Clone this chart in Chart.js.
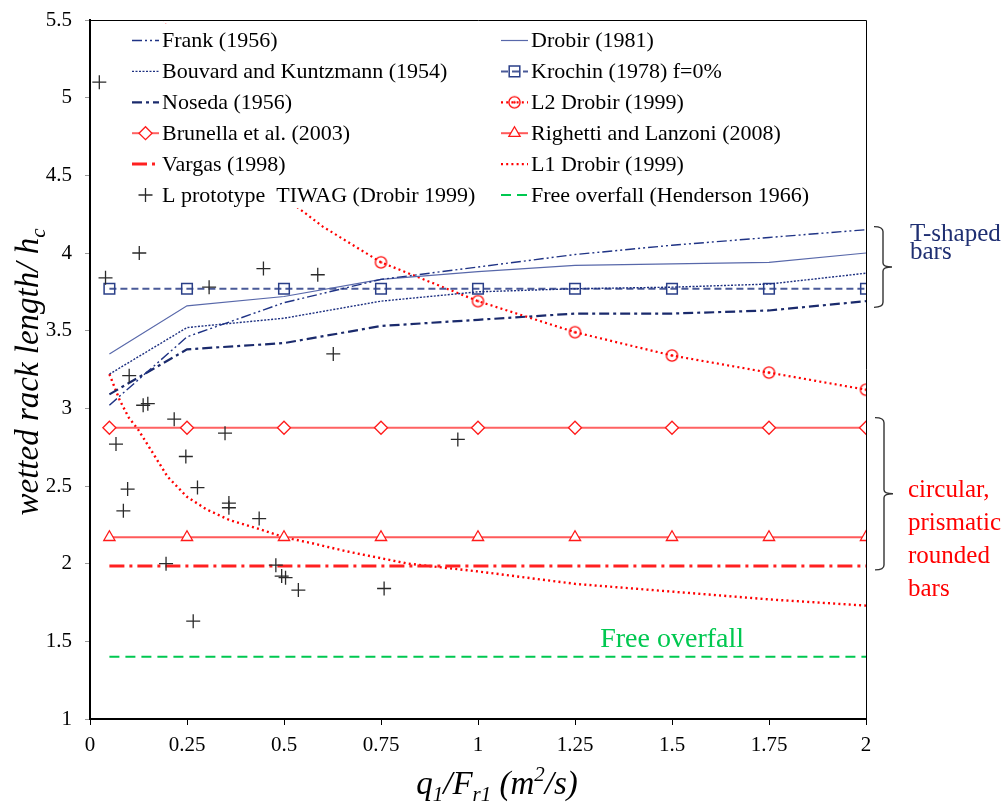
<!DOCTYPE html>
<html>
<head>
<meta charset="utf-8">
<script src="https://cdn.jsdelivr.net/npm/chart.js@4.4.1/dist/chart.umd.min.js"></script>
<style>
  html, body { margin: 0; padding: 0; background: #fff; }
  #wrap { width: 1005px; height: 803px; }
</style>
</head>
<body>
<div id="wrap"><canvas id="rackChart" width="1005" height="803"></canvas></div>
<script>
// q1/Fr1 values used by the formula curves
const qStd = [0.05, 0.25, 0.5, 0.75, 1, 1.25, 1.5, 1.75, 2];

// T-shaped bars
const frank1956   = [3.02, 3.46, 3.68, 3.83, 3.91, 3.99, 4.05, 4.10, 4.15];
const drobir1981  = [3.35, 3.66, 3.72, 3.83, 3.88, 3.92, 3.93, 3.94, 4.00];
const bouvard1954 = [3.22, 3.52, 3.58, 3.69, 3.75, 3.77, 3.78, 3.80, 3.87];
const noseda1956  = [3.09, 3.38, 3.42, 3.53, 3.57, 3.61, 3.61, 3.63, 3.69];
const krochin1978 = [3.77, 3.77, 3.77, 3.77, 3.77, 3.77, 3.77, 3.77, 3.77];

// circular / prismatic / rounded bars
const brunella2003 = [2.875, 2.875, 2.875, 2.875, 2.875, 2.875, 2.875, 2.875, 2.875];
const righetti2008 = [2.17, 2.17, 2.17, 2.17, 2.17, 2.17, 2.17, 2.17, 2.17];
const vargas1998   = [1.985, 1.985, 1.985, 1.985, 1.985, 1.985, 1.985, 1.985, 1.985];
const freeOverfall = [1.40, 1.40, 1.40, 1.40, 1.40, 1.40, 1.40, 1.40, 1.40];

// Drobir (1999) curves
const l2Q = [0.18, 0.2, 0.25, 0.3, 0.4, 0.5, 0.6, 0.75, 1, 1.25, 1.5, 1.75, 2];
const l2Drobir = [5.57, 5.43, 5.15, 4.93, 4.60, 4.36, 4.17, 3.94, 3.69, 3.49, 3.34, 3.23, 3.12];
const l1Q = [0.05, 0.077, 0.1, 0.125, 0.15, 0.2, 0.25, 0.3, 0.36, 0.44, 0.5, 0.575, 0.66, 0.82, 1, 1.25, 1.5, 1.75, 2];
const l1Drobir = [3.22, 3.05, 2.94, 2.86, 2.76, 2.56, 2.43, 2.35, 2.28, 2.22, 2.17, 2.13, 2.08, 2.00, 1.95, 1.87, 1.82, 1.77, 1.73];

// prototype measurements TIWAG
const protoQ = [0.024, 0.040, 0.127, 0.307, 0.447, 0.587, 0.627, 0.101, 0.137, 0.149, 0.217, 0.348, 0.067, 0.247,
                0.097, 0.277, 0.086, 0.358, 0.358, 0.436, 0.196, 0.479, 0.494, 0.504, 0.537, 0.758, 0.266, 0.948];
const protoL = [5.10, 3.84, 4.00, 3.78, 3.90, 3.86, 3.35, 3.21, 3.02, 3.03, 2.93, 2.84, 2.77, 2.69,
                2.48, 2.49, 2.34, 2.39, 2.36, 2.29, 2.00, 1.99, 1.92, 1.91, 1.83, 1.84, 1.63, 2.80];

const xTickLabels = ['0', '0.25', '0.5', '0.75', '1', '1.25', '1.5', '1.75', '2'];
const yTickLabels = ['1', '1.5', '2', '2.5', '3', '3.5', '4', '4.5', '5', '5.5'];

const legendLeft = ['Frank (1956)', 'Bouvard and Kuntzmann (1954)', 'Noseda (1956)',
                    'Brunella et al. (2003)', 'Vargas (1998)', 'L prototype  TIWAG (Drobir 1999)'];
const legendRight = ['Drobir (1981)', 'Krochin (1978) f=0%', 'L2 Drobir (1999)',
                     'Righetti and Lanzoni (2008)', 'L1 Drobir (1999)', 'Free overfall (Henderson 1966)'];

const SERIF = "'Liberation Serif', 'Times New Roman', serif";

function pts(xs, ys) {
    return xs.map((x, i) => ({ x: x, y: ys[i] }));
}

// open circle with a dot, used for L2
const circleDot = document.createElement('canvas');
circleDot.width = 15; circleDot.height = 15;
(function() {
    const c = circleDot.getContext('2d');
    c.strokeStyle = '#ff0000';
    c.lineWidth = 1.3;
    c.beginPath(); c.arc(7.5, 7.5, 5.6, 0, Math.PI * 2); c.stroke();
    c.fillStyle = '#ff0000';
    c.beginPath(); c.arc(7.5, 7.5, 1.2, 0, Math.PI * 2); c.fill();
})();

function lineSet(label, xs, ys, color, width, dash, extra) {
    return Object.assign({
        label: label,
        data: pts(xs, ys),
        showLine: true,
        borderColor: color,
        backgroundColor: color,
        borderWidth: width,
        borderDash: dash,
        pointRadius: 0,
        pointHoverRadius: 0,
        fill: false,
        tension: 0
    }, extra || {});
}

const datasets = [
    Object.assign({
        label: 'L prototype  TIWAG (Drobir 1999)',
        data: pts(protoQ, protoL),
        showLine: false,
        pointStyle: 'cross',
        pointRadius: 7,
        pointBorderWidth: 1.3,
        borderColor: '#2a2a2a',
        backgroundColor: '#2a2a2a'
    }),
    lineSet('Frank (1956)', qStd, frank1956, '#1f3385', 1.4, [10, 3, 2, 3, 2, 3]),
    lineSet('Drobir (1981)', qStd, drobir1981, '#5868aa', 1.2, []),
    lineSet('Bouvard and Kuntzmann (1954)', qStd, bouvard1954, '#1c2f80', 1.4, [2, 1.5]),
    lineSet('Noseda (1956)', qStd, noseda1956, '#1a2a6c', 2.2, [10, 4, 3, 4]),
    lineSet('Krochin (1978) f=0%', qStd, krochin1978, '#4a5a98', 2, [7, 4], {
        pointStyle: 'rect', pointRadius: 7.5, pointBorderWidth: 1.5,
        pointBorderColor: '#2a3f88', pointBackgroundColor: 'rgba(0,0,0,0)'
    }),
    lineSet('L2 Drobir (1999)', l2Q, l2Drobir, '#ff0000', 2.2, [2, 3.2], {
        pointStyle: circleDot,
        pointRadius: l2Q.map(q => q >= 0.75 ? 6 : 0)
    }),
    lineSet('Brunella et al. (2003)', qStd, brunella2003, '#ff6262', 2, [], {
        pointStyle: 'rectRot', pointRadius: 6.5, pointBorderWidth: 1.3,
        pointBorderColor: '#ff1a1a', pointBackgroundColor: '#ffffff'
    }),
    lineSet('Righetti and Lanzoni (2008)', qStd, righetti2008, '#ff5a5a', 2, [], {
        pointStyle: 'triangle', pointRadius: 6.5, pointBorderWidth: 1.3,
        pointBorderColor: '#ff1a1a', pointBackgroundColor: '#ffffff'
    }),
    lineSet('Vargas (1998)', qStd, vargas1998, '#ff2020', 3, [15, 5, 3, 5]),
    lineSet('L1 Drobir (1999)', l1Q, l1Drobir, '#ff0000', 2.4, [2, 3.2]),
    lineSet('Free overfall (Henderson 1966)', qStd, freeOverfall, '#00c850', 2, [10, 6])
];

function drawRich(ctx, parts, x, y, size) {
    // parts: [text, kind] with kind '', 'sub', 'sup'
    const fontFor = k => 'italic ' + (k ? Math.round(size * 0.65) : size) + 'px ' + SERIF;
    let total = 0;
    parts.forEach(p => { ctx.font = fontFor(p[1]); total += ctx.measureText(p[0]).width; });
    let cx = x - total / 2;
    ctx.textAlign = 'left';
    ctx.textBaseline = 'alphabetic';
    parts.forEach(p => {
        ctx.font = fontFor(p[1]);
        const dy = p[1] === 'sub' ? size * 0.22 : (p[1] === 'sup' ? -size * 0.38 : 0);
        ctx.fillText(p[0], cx, y + dy);
        cx += ctx.measureText(p[0]).width;
    });
}

function drawBrace(ctx, x, y1, y2) {
    const ym = (y1 + y2) / 2;
    ctx.beginPath();
    ctx.moveTo(x - 9, y1);
    ctx.quadraticCurveTo(x, y1, x, y1 + 5);
    ctx.lineTo(x, ym - 4);
    ctx.quadraticCurveTo(x, ym, x + 9, ym);
    ctx.quadraticCurveTo(x, ym, x, ym + 4);
    ctx.lineTo(x, y2 - 5);
    ctx.quadraticCurveTo(x, y2, x - 9, y2);
    ctx.stroke();
}

const decorPlugin = {
    id: 'decor',
    afterDatasetsDraw(chart) {
        const ctx = chart.ctx;
        const a = chart.chartArea;
        const ys = chart.scales.y;
        const xs = chart.scales.x;

        // legend box inside the plot
        ctx.save();
        ctx.fillStyle = '#ffffff';
        ctx.fillRect(a.left + 36, a.top + 4, a.right - a.left - 42, 184);
        const rowH = 30.9;
        const drawEntry = (label, x0, y) => {
            const ds = chart.data.datasets.find(d => d.label === label);
            const meta = chart.getDatasetMeta(chart.data.datasets.indexOf(ds));
            if (ds.showLine) {
                ctx.save();
                ctx.strokeStyle = ds.borderColor;
                ctx.lineWidth = ds.borderWidth;
                ctx.setLineDash(ds.borderDash || []);
                ctx.beginPath();
                ctx.moveTo(x0, y);
                ctx.lineTo(x0 + 27, y);
                ctx.stroke();
                ctx.restore();
            }
            const pr = Array.isArray(ds.pointRadius) ? Math.max.apply(null, ds.pointRadius) : ds.pointRadius;
            if (pr > 0) {
                const el = meta.data.find(p => p.options.radius > 0);
                const o = el.options;
                ctx.save();
                ctx.setLineDash([]);
                ctx.lineWidth = o.borderWidth;
                ctx.strokeStyle = o.borderColor;
                ctx.fillStyle = o.backgroundColor;
                Chart.helpers.drawPoint(ctx, { pointStyle: o.pointStyle, radius: o.radius, rotation: 0, borderWidth: o.borderWidth }, x0 + 13.5, y);
                ctx.restore();
            }
            ctx.fillStyle = '#000';
            ctx.font = '22px ' + SERIF;
            ctx.textAlign = 'left';
            ctx.textBaseline = 'middle';
            ctx.fillText(label, x0 + 30, y + 1);
        };
        legendLeft.forEach((l, i) => drawEntry(l, a.left + 42, a.top + 20.5 + i * rowH));
        legendRight.forEach((l, i) => drawEntry(l, a.left + 411, a.top + 20.5 + i * rowH));

        // frame on top and right
        ctx.strokeStyle = '#000';
        ctx.lineWidth = 1;
        ctx.setLineDash([]);
        ctx.beginPath();
        ctx.moveTo(a.left, a.top + 0.5);
        ctx.lineTo(a.right + 0.5, a.top + 0.5);
        ctx.lineTo(a.right + 0.5, a.bottom);
        ctx.stroke();

        // group braces and notes
        ctx.strokeStyle = '#333';
        ctx.lineWidth = 1.4;
        drawBrace(ctx, a.right + 17, ys.getPixelForValue(4.17), ys.getPixelForValue(3.65));
        drawBrace(ctx, a.right + 18, ys.getPixelForValue(2.94), ys.getPixelForValue(1.96));

        ctx.font = '25px ' + SERIF;
        ctx.textAlign = 'left';
        ctx.textBaseline = 'alphabetic';
        ctx.fillStyle = '#1f2f72';
        ctx.fillText('T-shaped', a.right + 44, ys.getPixelForValue(4.08));
        ctx.fillText('bars', a.right + 44, ys.getPixelForValue(3.96));
        ctx.fillStyle = '#ff0000';
        ['circular,', 'prismatic', 'rounded', 'bars'].forEach((t, i) => {
            ctx.fillText(t, a.right + 42, ys.getPixelForValue(2.43 - i * 0.212));
        });

        ctx.fillStyle = '#00c850';
        ctx.font = '28px ' + SERIF;
        ctx.fillText('Free overfall', xs.getPixelForValue(1.315), ys.getPixelForValue(1.465));
        ctx.restore();
    },
    afterDraw(chart) {
        const ctx = chart.ctx;
        const a = chart.chartArea;
        ctx.save();
        ctx.fillStyle = '#000';
        drawRich(ctx, [['q', ''], ['1', 'sub'], ['/F', ''], ['r1', 'sub'], [' (m', ''], ['2', 'sup'], ['/s)', '']],
                 (a.left + a.right) / 2 + 19, 794, 33);
        ctx.translate(38, 372);
        ctx.rotate(-Math.PI / 2);
        drawRich(ctx, [['wetted rack length/ h', ''], ['c', 'sub']], 0, 0, 33);
        ctx.restore();
    }
};

new Chart(document.getElementById('rackChart'), {
    type: 'scatter',
    data: { datasets: datasets },
    options: {
        responsive: false,
        animation: false,
        layout: {
            padding: { left: 0, right: 139, top: 20, bottom: 0 }
        },
        plugins: {
            legend: { display: false },
            tooltip: { enabled: false }
        },
        scales: {
            x: {
                type: 'linear',
                min: 0,
                max: 2,
                afterFit: function(scale) { scale.height = 84; },
                ticks: {
                    stepSize: 0.25,
                    autoSkip: false,
                    maxRotation: 0,
                    padding: 8,
                    color: '#000',
                    font: { family: SERIF, size: 21 },
                    callback: function(value, index) { return xTickLabels[index]; }
                },
                grid: {
                    drawOnChartArea: false,
                    tickLength: 6,
                    color: '#000'
                },
                border: { color: '#000', width: 2 }
            },
            y: {
                type: 'linear',
                min: 1,
                max: 5.5,
                afterFit: function(scale) {
                    scale.width = 90;
                    scale.paddingTop = 0;
                    scale.paddingBottom = 0;
                },
                ticks: {
                    stepSize: 0.5,
                    padding: 13,
                    color: '#000',
                    font: { family: SERIF, size: 21 },
                    callback: function(value, index) { return yTickLabels[index]; }
                },
                grid: {
                    drawOnChartArea: false,
                    tickLength: 5,
                    color: '#999'
                },
                border: { color: '#000', width: 2 }
            }
        }
    },
    plugins: [decorPlugin]
});
</script>
</body>
</html>
